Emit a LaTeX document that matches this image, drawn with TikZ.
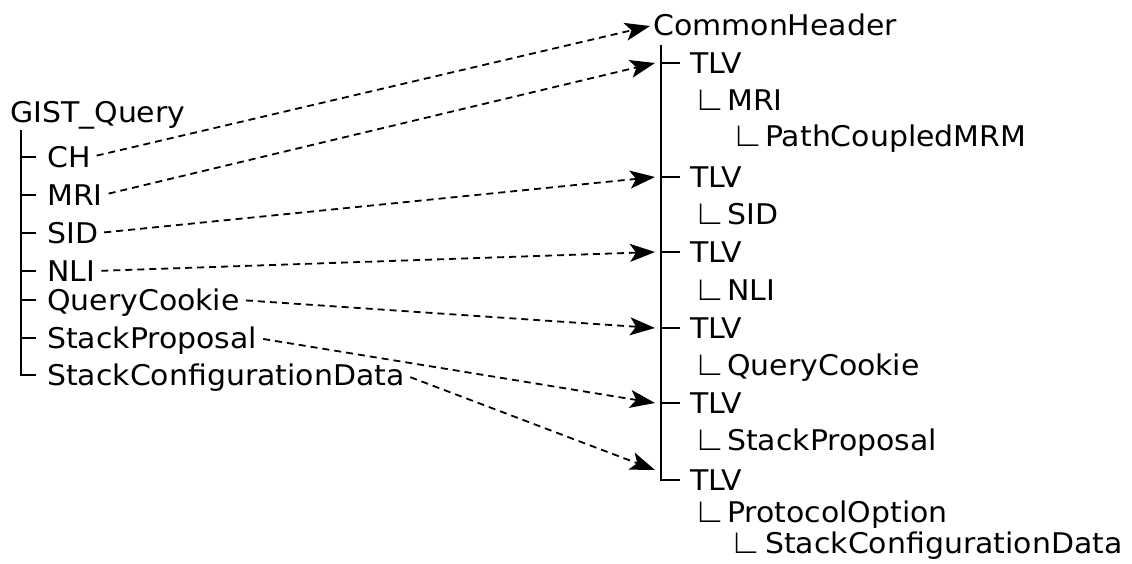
\documentclass[tikz,border=0pt]{standalone}
\usepackage{fontspec}
\setmainfont[FakeStretch=1.05]{DejaVu Sans}
\newfontfamily\angfont{Liberation Sans}
\usetikzlibrary{arrows.meta}
\newcommand{\elbow}[1][29pt]{\rlap{\hspace{-5pt}\scalebox{1.2}{\angfont ∟}}\hspace{#1}}

\begin{document}
\begin{tikzpicture}[x=1pt,y=-1pt,
    lbl/.style={anchor=west,inner sep=0pt,text height=20.7pt,text depth=0pt,font=\fontsize{28.5}{34}\selectfont},
    tree/.style={line width=2pt},
    link/.style={line width=1.8pt,dash pattern=on 7pt off 5pt,shorten <=6pt,-{Stealth[length=25pt,width=18pt,inset=6pt]}}]
  \useasboundingbox (0,0) rectangle (1132,563);
  % left tree
  \node[lbl] (gq) at (10,112) {GIST\_Query};
  \node[lbl] (ch) at (47,157) {CH};
  \node[lbl] (mri) at (47,195) {MRI};
  \node[lbl] (sid) at (47,233) {SID};
  \node[lbl] (nli) at (47,271) {NLI};
  \node[lbl] (qc) at (47,300) {QueryCookie};
  \node[lbl] (sp) at (47,338) {StackProposal};
  \node[lbl] (scd) at (47,375) {StackConfigurationData};
  \coordinate (lrail) at (21,130);
  \draw[tree] (lrail) -- (lrail |- scd.west) -- ([xshift=-11]scd.west);
  \foreach \n in {ch,mri,sid,nli,qc,sp}
    \draw[tree] (lrail |- \n.west) -- ([xshift=-11]\n.west);
  % right tree
  \node[lbl] (hdr) at (653,25) {CommonHeader};
  \node[lbl] (tlv1) at (690,63) {TLV};
  \node[lbl] (rmri) at (698,100) {\elbow MRI};
  \node[lbl] (pcm) at (736,136) {\elbow PathCoupledMRM};
  \node[lbl] (tlv2) at (690,177) {TLV};
  \node[lbl] (rsid) at (698,214) {\elbow SID};
  \node[lbl] (tlv3) at (690,252) {TLV};
  \node[lbl] (rnli) at (698,290) {\elbow NLI};
  \node[lbl] (tlv4) at (690,328) {TLV};
  \node[lbl] (rqc) at (698,365) {\elbow QueryCookie};
  \node[lbl] (tlv5) at (690,403) {TLV};
  \node[lbl] (rsp) at (698,440) {\elbow StackProposal};
  \node[lbl] (tlv6) at (690,480) {TLV};
  \node[lbl] (po) at (698,512) {\elbow ProtocolOption};
  \node[lbl] (rscd) at (734,543) {\elbow[31pt]StackConfigurationData};
  \coordinate (rrail) at (661,45);
  \draw[tree] (rrail) -- (rrail |- tlv6.west) -- ([xshift=-10]tlv6.west);
  \foreach \n in {tlv1,tlv2,tlv3,tlv4,tlv5}
    \draw[tree] (rrail |- \n.west) -- ([xshift=-10]\n.west);
  % arrow tips
  \coordinate (p0) at (650,26);
  \coordinate (p1) at (655,63);
  \coordinate (p2) at (655,177);
  \coordinate (p3) at (655,252);
  \coordinate (p4) at (655,328);
  \coordinate (p5) at (655,403);
  \coordinate (p6) at (655,470);
  \draw[link] (ch.east) -- (p0);
  \draw[link] (mri.east) -- (p1);
  \draw[link] (sid.east) -- (p2);
  \draw[link] (nli.east) -- (p3);
  \draw[link] (qc.east) -- (p4);
  \draw[link] (sp.east) -- (p5);
  \draw[link] (scd.east) -- (p6);
\end{tikzpicture}
\end{document}
